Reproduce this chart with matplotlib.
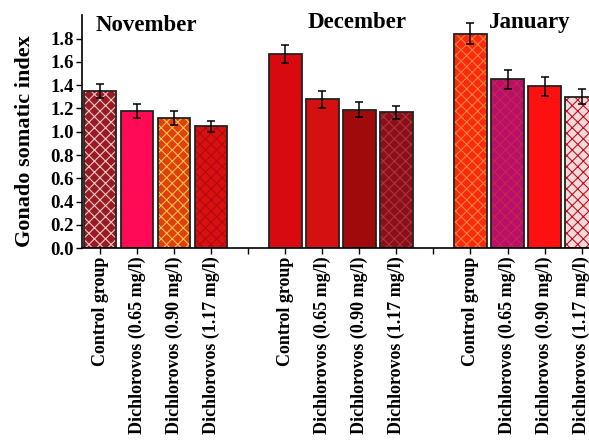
import numpy as np
from matplotlib import pyplot as plt

plt.rcParams['font.family'] = ['Liberation Serif', 'DejaVu Serif']
plt.rcParams['font.weight'] = 'bold'
plt.rcParams['hatch.linewidth'] = 0.8

months = ['November', 'December', 'January']
groups = ['Control group', 'Dichlorovos (0.65 mg/l)', 'Dichlorovos (0.90 mg/l)', 'Dichlorovos (1.17 mg/l)']

nov = [1.35, 1.18, 1.12, 1.045]
dec = [1.668, 1.277, 1.19, 1.165]
jan = [1.84, 1.45, 1.39, 1.30]
nov_err = [0.06, 0.06, 0.06, 0.045]
dec_err = [0.08, 0.07, 0.065, 0.06]
jan_err = [0.09, 0.08, 0.08, 0.065]

# bar face, hatch colour, hatch pattern
styles = [
	('#9A1A22', '#E8C8C8', 'xxx'), ('#FF0A55', '#FF2A6A', ''), ('#E04010', '#F8C040', 'xxx'), ('#D81010', '#B00A10', 'xxx'),
	('#D80A10', '#C00810', ''), ('#D41010', '#B80A10', ''), ('#A00A0A', '#900808', ''), ('#8A1018', '#B03040', 'xxx'),
	('#F82A10', '#FF8030', 'xxx'), ('#B5106A', '#D02050', 'xxx'), ('#FF1010', '#FF1010', ''), ('#F2DADA', '#C01020', 'xxx'),
]

values = nov + dec + jan
errors = nov_err + dec_err + jan_err
pos = [0, 1, 2, 3, 5, 6, 7, 8, 10, 11, 12, 13]

fig = plt.figure(figsize=(5.89, 4.48), dpi=100)
ax = fig.add_axes([0.139, 0.446, 0.861, 0.52])

for i in range(len(values)):
	face, hc, hatch = styles[i]
	ax.bar(pos[i], values[i], width=0.88, color=face, edgecolor=hc, hatch=hatch, linewidth=0)
	ax.bar(pos[i], values[i], width=0.88, fill=False, edgecolor='#222222', linewidth=1.3)
ax.errorbar(pos, values, yerr=errors, fmt='none', ecolor='black', elinewidth=1.1, capsize=3, capthick=1.1)

ax.set_xlim(-0.49, 13.2)
ax.set_ylim(0, 2.0)
ax.set_yticks(np.arange(0, 1.81, 0.2))
ax.set_yticklabels(['%.1f' % v for v in np.arange(0, 1.81, 0.2)], fontsize=13.5, fontweight='bold')
ticks = list(range(14))
labels = []
for t in ticks:
	if t in pos:
		labels.append(groups[pos.index(t) % 4])
	else:
		labels.append('')
ax.set_xticks(ticks)
ax.set_xticklabels(labels, rotation=90, fontsize=13, fontweight='bold')
ax.tick_params(axis='both', direction='out', length=4, width=1, pad=2)
ax.spines['top'].set_visible(False)
ax.spines['right'].set_visible(False)
ax.spines['left'].set_linewidth(1.2)
ax.spines['bottom'].set_linewidth(1.2)
ax.set_ylabel('Gonado somatic index', fontsize=16, fontweight='bold')
ax.yaxis.set_label_coords(-0.093, 0.46)

ax.text(-0.13, 1.91, months[0], fontsize=16.5, fontweight='bold', va='center')
ax.text(5.6, 1.94, months[1], fontsize=16.5, fontweight='bold', va='center')
ax.text(10.5, 1.94, months[2], fontsize=16.5, fontweight='bold', va='center')

fig.savefig('out.png', dpi=100)
